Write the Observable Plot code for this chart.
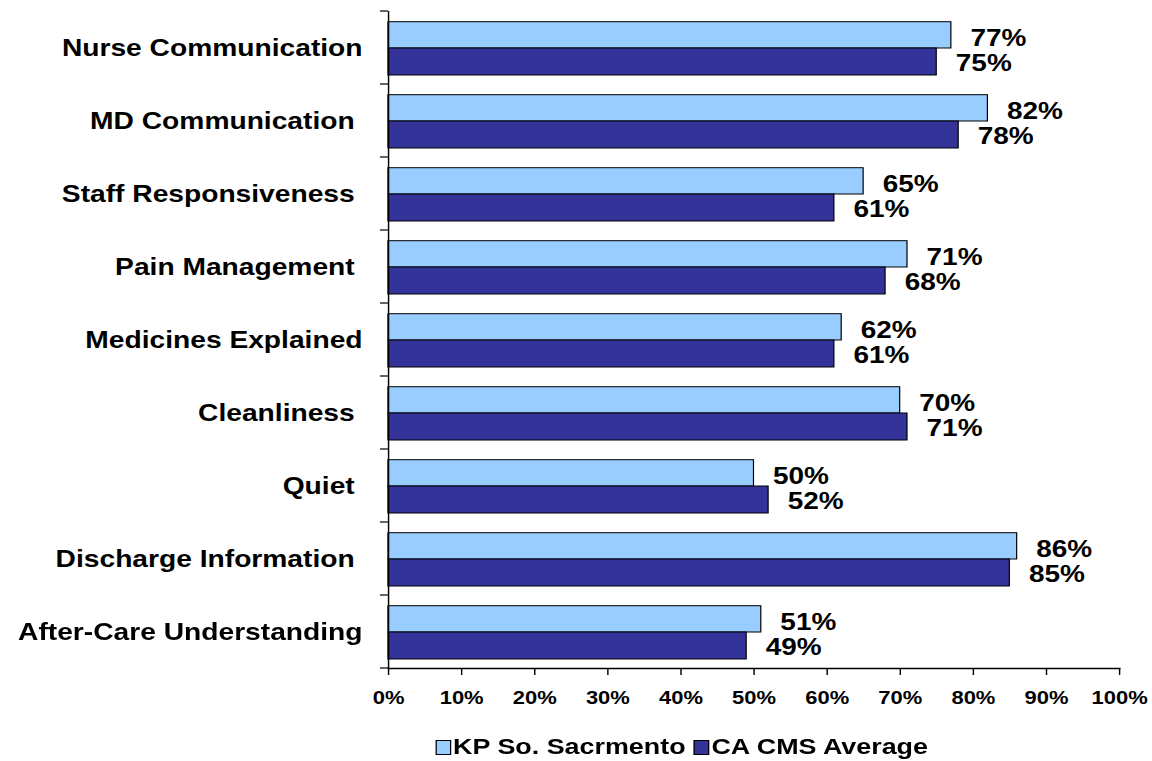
<!DOCTYPE html>
<html>
<head>
<meta charset="utf-8">
<script src="https://cdn.jsdelivr.net/npm/d3@7"></script>
<script src="https://cdn.jsdelivr.net/npm/@observablehq/plot@0.6"></script>
<style>
  html, body { margin: 0; padding: 0; background: #fff; }
  #wrap { width: 960px; transform: scaleX(1.2); transform-origin: 0 0; font-family: "Liberation Sans", Arial, sans-serif; }
  #wrap svg text { white-space: pre; }
  .legend { display: flex; align-items: center; padding-left: 362.5px; margin-top: 12px; height: 30px; font-weight: bold; font-size: 22.4px; color: #000; }
  .sw { display: inline-block; width: 13.3px; height: 15px; border: 1px solid #000; box-sizing: border-box; margin-right: 1.8px; }
  .item { display: flex; align-items: center; margin-right: 6.5px; }
</style>
</head>
<body>
<div id="wrap"></div>
<script>
const categories = ["Nurse Communication", "MD Communication ", "Staff Responsiveness ", "Pain Management ", "Medicines Explained", "Cleanliness ", "Quiet ", "Discharge Information ", "After-Care Understanding"];
const kpSacramento = [77, 82, 65, 71, 62, 70, 50, 86, 51];
const caCmsAverage = [75, 78, 61, 68, 61, 71, 52, 85, 49];
const seriesNames = ["KP So. Sacrmento", "CA CMS Average"];
const seriesColors = ["#99CCFF", "#333399"];
const xTicks = [0, 10, 20, 30, 40, 50, 60, 70, 80, 90, 100];

const kpRows = categories.map((c, i) => ({category: c, value: kpSacramento[i]}));
const caRows = categories.map((c, i) => ({category: c, value: caCmsAverage[i]}));

// category boundary ticks on the y axis, computed from the band scale
function boundaryTicks(index, scales, values, dims) {
  const y = scales.y;
  const dom = y.domain ? y.domain() : categories;
  const g = d3.create("svg:g").attr("stroke", "#000").attr("stroke-width", 1.2);
  const x0 = dims.marginLeft;
  const ys = dom.map(d => scales.y(d));
  const bw = scales.y.bandwidth ? scales.y.bandwidth() : (ys[1] - ys[0]);
  const bounds = ys.concat([ys[ys.length - 1] + bw]);
  for (const yy of bounds) {
    g.append("line").attr("x1", x0 - 6.7).attr("x2", x0).attr("y1", yy).attr("y2", yy);
  }
  return g.node();
}

const chart = Plot.plot({
  width: 960,
  height: 720,
  marginLeft: 323.3,
  marginRight: 27.5,
  marginTop: 11,
  marginBottom: 52,
  style: {fontFamily: "Liberation Sans, Arial, sans-serif", color: "#000", background: "#fff", overflow: "visible"},
  x: {domain: [0, 100]},
  y: {type: "band", domain: categories, padding: 0},
  marks: [
    Plot.barX(kpRows, {x: "value", y: "category", fill: seriesColors[0], stroke: "#000", strokeWidth: 1, insetTop: 10.7, insetBottom: 36}),
    Plot.barX(caRows, {x: "value", y: "category", fill: seriesColors[1], stroke: "#000", strokeWidth: 1, insetTop: 37, insetBottom: 9}),
    Plot.text(kpRows, {x: "value", y: "category", text: d => d.value + "%", textAnchor: "start", dx: 15.8, dy: -9.5, fontSize: 23.3, fontWeight: "bold", fill: "#000"}),
    Plot.text(caRows, {x: "value", y: "category", text: d => d.value + "%", textAnchor: "start", dx: 15.8, dy: 15.5, fontSize: 23.3, fontWeight: "bold", fill: "#000"}),
    Plot.frame({anchor: "left", stroke: "#000", strokeWidth: 1.2}),
    Plot.frame({anchor: "bottom", stroke: "#000", strokeWidth: 1.5}),
    Plot.axisX({ticks: xTicks, tickFormat: d => d + "%", tickSize: 7, tickPadding: 15, fontSize: 18.3, fontWeight: "bold", label: null, stroke: "#000", strokeWidth: 1.2}),
    Plot.axisY({tickSize: 0, tickPadding: 21.7, fontSize: 23.5, fontWeight: "bold", label: null}),
    boundaryTicks
  ]
});

const wrap = document.getElementById("wrap");
wrap.appendChild(chart);

const legend = document.createElement("div");
legend.className = "legend";
seriesNames.forEach((name, i) => {
  const item = document.createElement("span");
  item.className = "item";
  const sw = document.createElement("span");
  sw.className = "sw";
  sw.style.background = seriesColors[i];
  const t = document.createElement("span");
  t.textContent = name;
  item.appendChild(sw);
  item.appendChild(t);
  legend.appendChild(item);
});
wrap.appendChild(legend);
</script>
</body>
</html>
